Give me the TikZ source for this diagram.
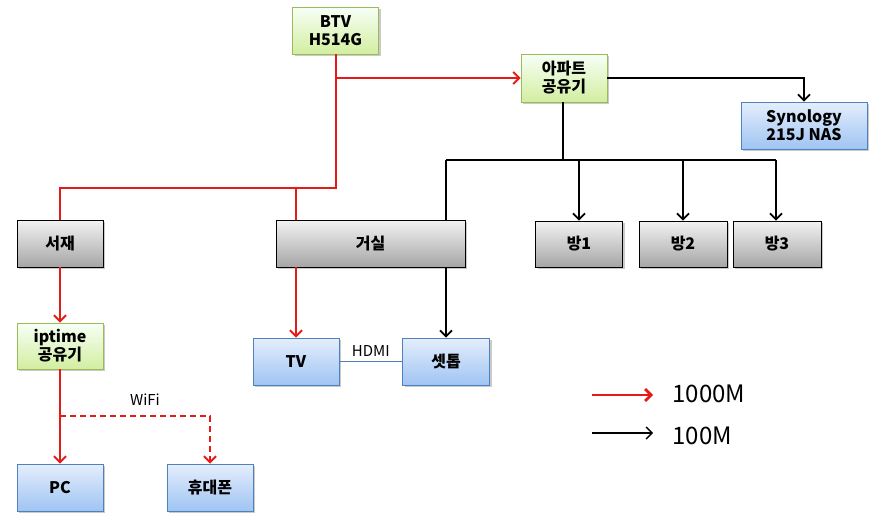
\documentclass[tikz,border=0pt]{standalone}
\usepackage{fontspec}
\setmainfont{Noto Sans CJK KR}
\usetikzlibrary{arrows.meta,shadows,calc}
\definecolor{netred}{HTML}{E41B17}
\definecolor{grnborder}{HTML}{9BBB59}
\definecolor{bluborder}{HTML}{4F81BD}
\tikzset{
  box/.style={draw, minimum width=86pt, minimum height=47pt, inner sep=0pt, align=center,
    font=\fontsize{16}{18}\selectfont\bfseries, line width=0.8pt,
    drop shadow={shadow xshift=2pt, shadow yshift=-2pt, opacity=0.35, fill=black!60}},
  greenbox/.style={box, draw=grnborder, top color=green!3!white, bottom color={rgb,255:red,210;green,238;blue,160}},
  bluebox/.style={box, draw=bluborder, top color={rgb,255:red,228;green,238;blue,252}, bottom color={rgb,255:red,160;green,196;blue,243}},
  graybox/.style={box, draw=black, top color=white!95!black, bottom color=black!35},
  tip/.style={-{Straight Barb[length=6pt,width=12pt]}},
  redline/.style={draw=netred, line width=2pt},
  blkline/.style={draw=black, line width=1.8pt},
  lbl/.style={font=\fontsize{15}{17}\selectfont},
}
\begin{document}
\begin{tikzpicture}[x=1pt,y=-1pt]
\useasboundingbox (0,0) rectangle (878,525);
% nodes
\node[greenbox] (btv) at (335.5,30.5) {BTV\\H514G};
\node[greenbox, minimum height=48pt] (apt) at (564,78) {아파트\\공유기};
\node[bluebox, minimum width=126pt] (nas) at (804,125.5) {Synology\\215J NAS};
\node[graybox, minimum width=87pt, minimum height=46pt] (b1) at (579,244) {방1};
\node[graybox, minimum width=88pt, minimum height=46pt] (b2) at (683,244) {방2};
\node[graybox, minimum width=88pt, minimum height=46pt] (b3) at (777,244) {방3};
\node[graybox] (seojae) at (60,243.5) {서재};
\node[graybox, minimum width=189pt] (geosil) at (370.5,243.5) {거실};
\node[greenbox, minimum height=46pt] (iptime) at (60,346) {iptime\\공유기};
\node[bluebox] (tv) at (296,361.5) {TV};
\node[bluebox, minimum width=87pt] (stb) at (446,361.5) {셋톱};
\node[bluebox] (pc) at (60,487.5) {PC};
\node[bluebox] (phone) at (210,487.5) {휴대폰};
% junctions
\coordinate (j1) at (336,188);
\coordinate (j2) at (563,160);
\coordinate (jL) at (446,160);
\coordinate (jR) at (776,160);
\coordinate (jw) at (60,416);
% red links
\draw[redline] (btv.south -| j1) -- (j1) -| (seojae.north);
\draw[redline] (j1 -| tv.north) -- (tv.north |- geosil.north);
\draw[redline, tip] (j1 |- apt.west) -- (apt.west);
\draw[redline, tip] (geosil.south -| tv.north) -- (tv.north);
\draw[redline, tip] (seojae.south) -- (iptime.north);
\draw[redline, tip] (iptime.south) -- (pc.north);
\draw[redline, dashed, dash pattern=on 6pt off 4pt, tip] (jw) -| (phone.north);
\node[lbl] (wifi) at (145,400) {WiFi};
% black links
\draw[blkline, tip] (apt.east) -| (nas.north);
\draw[blkline] (apt.south -| j2) -- (j2);
\draw[blkline] (jL) -- (jR);
\draw[blkline] (jL) -- (jL |- geosil.north);
\draw[blkline, tip] (jL |- geosil.south) -- (stb.north);
\draw[blkline, tip] (j2 -| b1.north) -- (b1.north);
\draw[blkline, tip] (j2 -| b2.north) -- (b2.north);
\draw[blkline, tip] (jR) -- (jR |- b3.north);
% HDMI
\draw[draw=bluborder, line width=0.8pt] (tv.east) -- (stb.west);
\node[lbl, anchor=south] (hdmi) at ($(tv.east)!0.5!(stb.west)+(0,-1)$) {HDMI};
% legend
\coordinate (l1a) at (592,395);
\coordinate (l1b) at (653,395);
\coordinate (l2a) at (592,433);
\coordinate (l2b) at (653,433);
\draw[draw=netred, line width=2.8pt, -{Straight Barb[length=6pt,width=12pt]}] (l1a) -- (l1b);
\draw[draw=black, line width=1.4pt, -{Straight Barb[length=6pt,width=12pt]}] (l2a) -- (l2b);
\node[anchor=west, font=\fontsize{24}{26}\selectfont] (leg1) at (669,394) {1000M};
\node[anchor=west, font=\fontsize{24}{26}\selectfont] (leg2) at (669,436) {100M};
\end{tikzpicture}
\end{document}
